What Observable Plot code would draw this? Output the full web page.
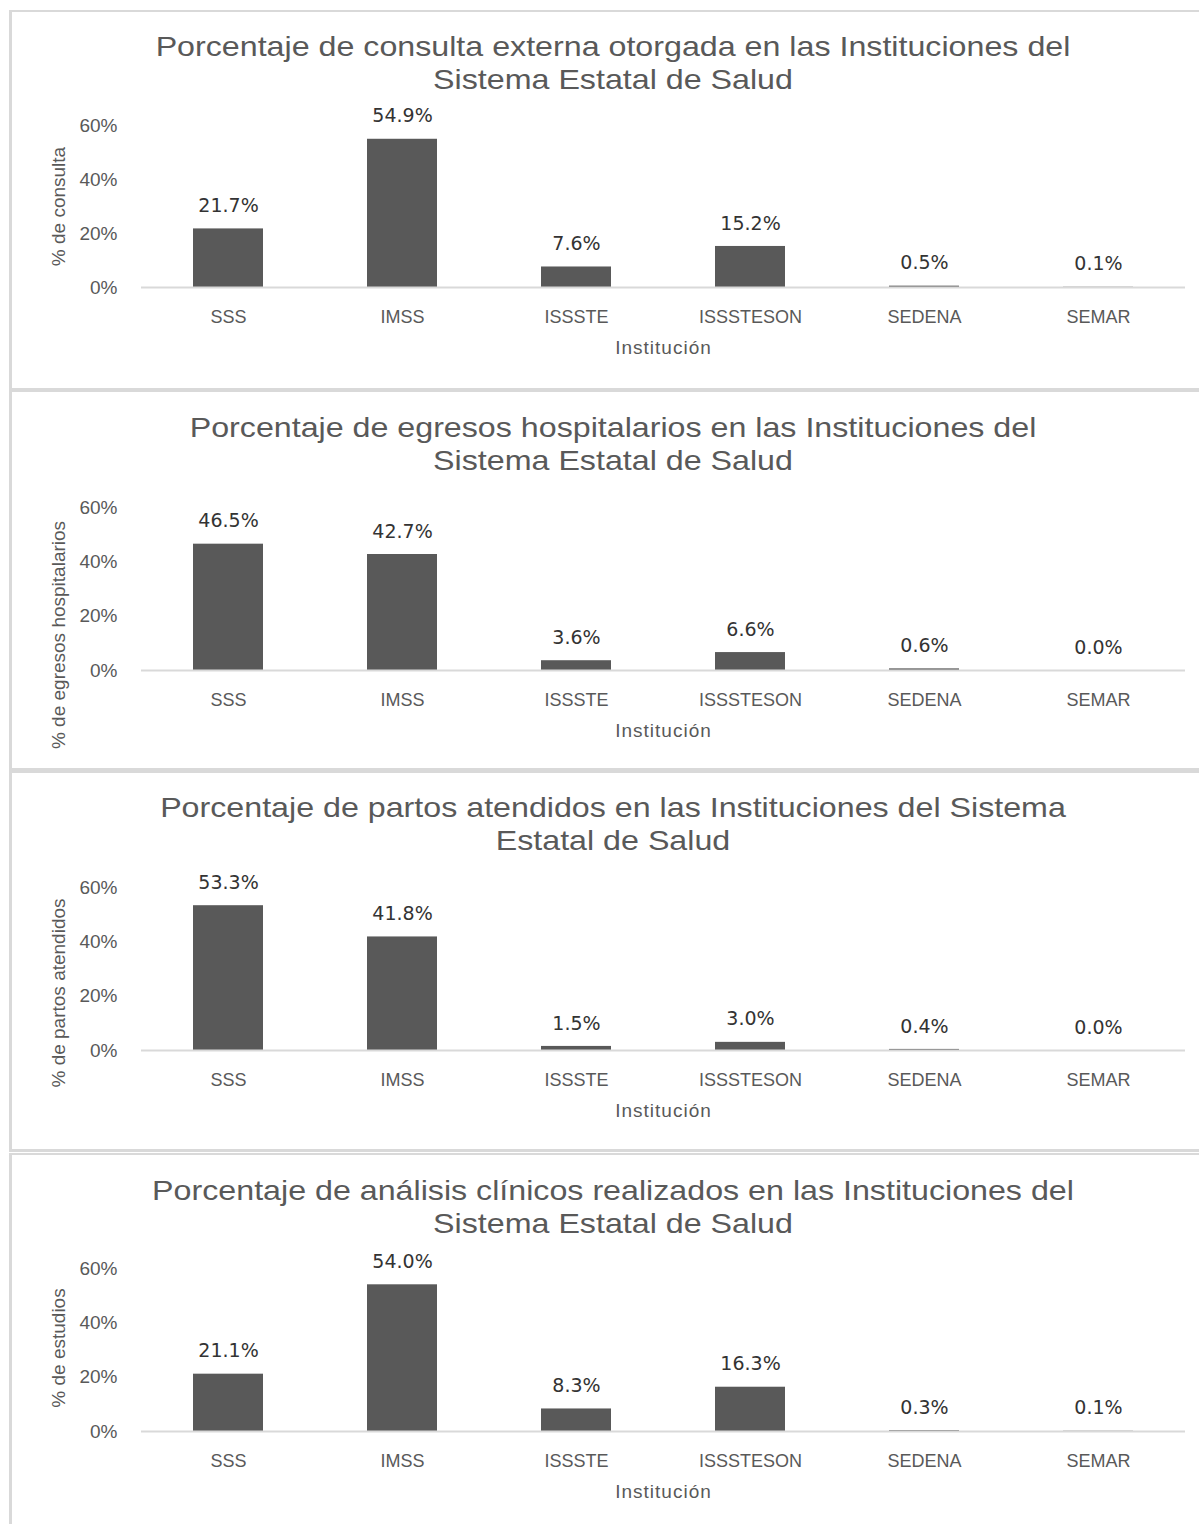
<!DOCTYPE html>
<html>
<head>
<meta charset="utf-8">
<script src="https://cdn.jsdelivr.net/npm/d3@7"></script>
<script src="https://cdn.jsdelivr.net/npm/@observablehq/plot@0.6"></script>
<style>
  html, body { margin: 0; padding: 0; background: #fff; }
  #page { position: relative; width: 1199px; height: 1524px; overflow: hidden; background: #fff; font-family: "Liberation Sans", Arial, sans-serif; }
  .panel { position: absolute; left: 9px; width: 1200px; box-sizing: border-box; border-top: 2px solid #d9d9d9; border-left: 3px solid #d9d9d9; border-bottom: 3px solid #d9d9d9; }
  .title { position: absolute; left: 0; width: 1226px; text-align: center; font-size: 28px; color: #595959; line-height: 33px; white-space: nowrap; transform: scaleX(1.15); transform-origin: 613px 0; }
  .chart { position: absolute; left: 0; }
  .chart svg { font-family: "Liberation Sans", Arial, sans-serif; }
</style>
</head>
<body>
<div id="page"></div>
<script>
const categories = ["SSS", "IMSS", "ISSSTE", "ISSSTESON", "SEDENA", "SEMAR"];
const consulta = [21.7, 54.9, 7.6, 15.2, 0.5, 0.1];
const egresos = [46.5, 42.7, 3.6, 6.6, 0.6, 0.0];
const partos = [53.3, 41.8, 1.5, 3.0, 0.4, 0.0];
const analisis = [21.1, 54.0, 8.3, 16.3, 0.3, 0.1];
const yTicks = [0, 20, 40, 60];
const xLabel = "Institución";

const panels = [
  {values: consulta, title: ["Porcentaje de consulta externa otorgada en las Instituciones del", "Sistema Estatal de Salud"], ylabel: "% de consulta"},
  {values: egresos, title: ["Porcentaje de egresos hospitalarios en las Instituciones del", "Sistema Estatal de Salud"], ylabel: "% de egresos hospitalarios"},
  {values: partos, title: ["Porcentaje de partos atendidos en las Instituciones del Sistema", "Estatal de Salud"], ylabel: "% de partos atendidos"},
  {values: analisis, title: ["Porcentaje de análisis clínicos realizados en las Instituciones del", "Sistema Estatal de Salud"], ylabel: "% de estudios"}
];

// layout (page coordinates)
const layout = [
  {top: 10, frameTop: 115, frameBottom: 277, titleY: 20, ylabDy: 0},
  {top: 390, frameTop: 117, frameBottom: 280, titleY: 21, ylabDy: 46},
  {top: 771, frameTop: 116, frameBottom: 279, titleY: 20, ylabDy: 24},
  {top: 1153, frameTop: 115, frameBottom: 278, titleY: 21, ylabDy: -2}
];

const page = document.getElementById("page");
const H = 378;

panels.forEach((p, i) => {
  const L = layout[i];
  const box = document.createElement("div");
  box.className = "panel";
  box.style.top = L.top + "px";
  box.style.height = (i === 3 ? 400 : 381) + "px";
  page.appendChild(box);

  const data = categories.map((c, j) => ({cat: c, v: p.values[j]}));

  const chart = Plot.plot({
    width: 1199,
    height: H,
    marginLeft: 141,
    marginRight: 14,
    marginTop: L.frameTop,
    marginBottom: H - L.frameBottom,
    style: {background: "transparent", fontSize: "18px", color: "#595959"},
    x: {domain: categories, paddingInner: 0.6, paddingOuter: 0.3, label: null},
    y: {domain: [0, 60], label: null},
    marks: [
      Plot.barY(data, {x: "cat", y: "v", fill: "#595959"}),
      Plot.ruleY([0], {stroke: "#d9d9d9", strokeWidth: 2}),
      Plot.axisY({ticks: yTicks, tickSize: 0, tickPadding: 24, tickFormat: d => d + "%", fontSize: 19, fill: "#595959", label: null}),
      Plot.axisX({tickSize: 0, tickPadding: 23, fontSize: 18, fill: "#595959", label: null}),
      Plot.text(data, {x: "cat", y: "v", text: d => d.v.toFixed(1) + "%", dy: -23, lineAnchor: "middle", fontSize: 19, fontFamily: "DejaVu Sans", fill: "#333333"}),
      Plot.text([p.ylabel], {text: d => d, frameAnchor: "left", textAnchor: "middle", rotate: -90, dx: -83, dy: L.ylabDy, lineAnchor: "middle", fontSize: 19, fill: "#595959"}),
      Plot.text([xLabel], {text: d => d, frameAnchor: "bottom", textAnchor: "middle", dy: 60, lineAnchor: "middle", fontSize: 19, fill: "#595959", style: "letter-spacing:1px"})
    ]
  });
  chart.querySelectorAll("text").forEach(t => { if (t.textContent === xLabel) t.setAttribute("letter-spacing", "1"); });
  const wrap = document.createElement("div");
  wrap.className = "chart";
  wrap.style.top = L.top + "px";
  wrap.appendChild(chart);
  page.appendChild(wrap);

  const t = document.createElement("div");
  t.className = "title";
  t.style.top = (L.top + L.titleY) + "px";
  t.innerHTML = p.title.join("<br>");
  page.appendChild(t);
});
</script>
</body>
</html>
